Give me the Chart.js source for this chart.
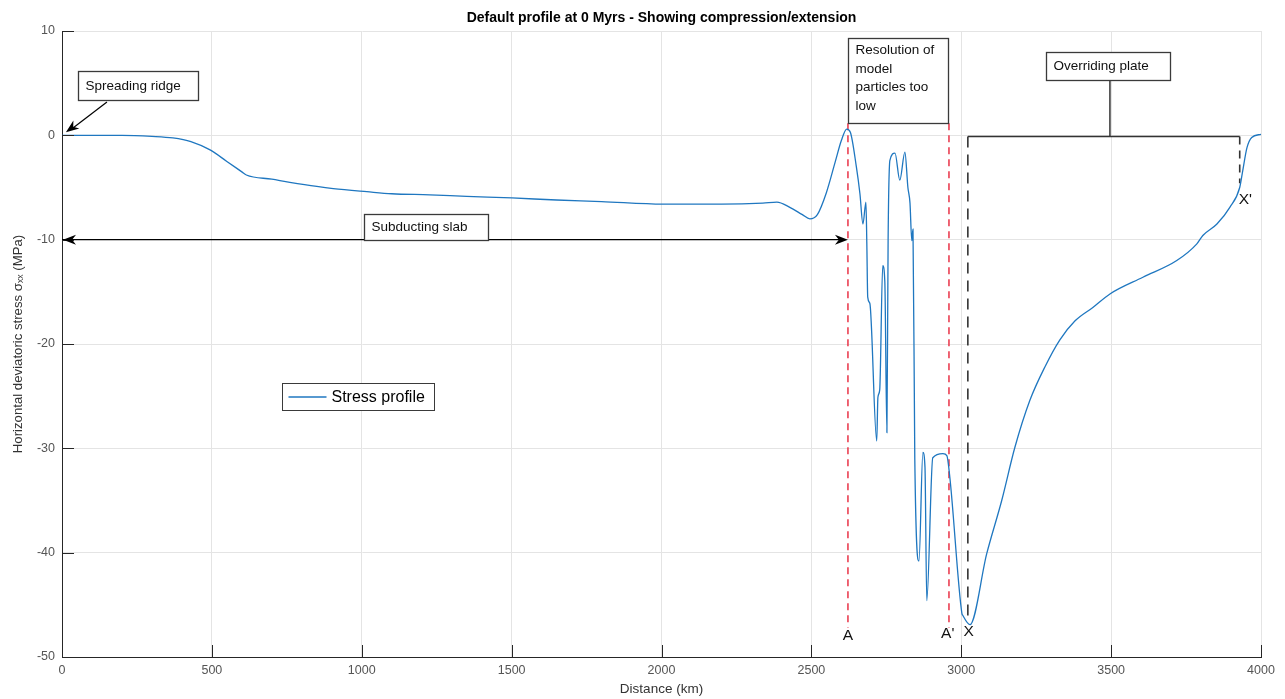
<!DOCTYPE html>
<html>
<head>
<meta charset="utf-8">
<script src="https://cdn.jsdelivr.net/npm/chart.js@4.4.1/dist/chart.umd.min.js"></script>
<style>
    html, body { margin: 0; padding: 0; background: #ffffff; }
    #wrap { width: 1285px; height: 699px; }
</style>
</head>
<body>
<div id="wrap"><canvas id="stressChart" width="1285" height="699"></canvas></div>
<script>
// Stress profile
const distanceKm = [
    0, 100, 200, 300, 370, 430, 494, 550, 600, 615, 700, 760, 850, 905, 1017, 1100, 1227, 1350, 1501, 1650,
    1800, 2005, 2200, 2338, 2385, 2428, 2470, 2495, 2520, 2550, 2580, 2600, 2618, 2630, 2650, 2662, 2672, 2682,
    2685, 2688, 2695, 2718, 2722, 2728, 2738, 2745, 2752, 2756, 2762, 2779, 2795, 2812, 2822, 2829, 2835, 2839,
    2845, 2859, 2872, 2879, 2885, 2905, 2939, 2952, 2962, 3002, 3005, 3029, 3085, 3135, 3179, 3229, 3279, 3329,
    3379, 3439, 3496, 3606, 3719, 3786, 3806, 3853, 3896, 3929, 3939, 3953, 3969, 4000
];
const stressMPa = [
    0, 0, 0, -0.1, -0.25, -0.6, -1.4, -2.5, -3.5, -3.8, -4.2, -4.5, -4.9, -5.1, -5.4, -5.6, -5.7, -5.85, -6.0, -6.2,
    -6.35, -6.6, -6.6, -6.5, -6.4, -6.9, -7.6, -8.0, -7.6, -5.5, -2.5, -0.5, 0.6, 0.3, -3.0, -5.6, -8.5, -6.4,
    -10.4, -15.5, -16.1, -29.3, -25.1, -24.4, -12.5, -14.0, -28.5, -10.0, -2.4, -1.7, -4.3, -1.6, -5.0, -6.5, -10.1, -9.0,
    -31.0, -40.8, -30.4, -31.8, -44.6, -30.9, -30.5, -30.7, -32.8, -45.8, -46.0, -46.9, -40.1, -35.0, -29.9, -25.4, -22.2, -19.6,
    -17.8, -16.5, -15.2, -13.6, -12.0, -10.4, -9.6, -8.5, -6.9, -5.0, -3.4, -1.2, -0.2, 0.1
];

// Axis ticks
const xTicks = [0, 500, 1000, 1500, 2000, 2500, 3000, 3500, 4000];
const yTicks = [-50, -40, -30, -20, -10, 0, 10];

// Section markers (km)
const markerA = 2622;
const markerA2 = 2959;
const markerX = 3022;
const markerX2 = 3929;
const plateMid = 3496;

const FONT = '"Liberation Sans", Arial, Helvetica, sans-serif';

const segment = (points) => points.map(([x, y]) => ({ x, y }));

// Annotation boxes (data coordinates)
const boxes = [
    { x0: 53, x1: 453, y0: 3.4, y1: 6.2, lines: ['Spreading ridge'] },
    { x0: 2622, x1: 2955, y0: 1.15, y1: 9.3, lines: ['Resolution of', 'model', 'particles too', 'low'] },
    { x0: 3282, x1: 3696, y0: 5.3, y1: 8.0, lines: ['Overriding plate'] },
    { x0: 1007, x1: 1421, y0: -10, y1: -7.5, lines: ['Subducting slab'] }
];

const pointLabels = [
    { text: 'A', x: markerA, y: -48.0 },
    { text: "A'", x: 2955, y: -47.8 },
    { text: 'X', x: 3025, y: -47.6 },
    { text: "X'", x: 3948, y: -6.2 }
];

const drawArrowHead = (ctx, fromX, fromY, toX, toY) => {
    const angle = Math.atan2(toY - fromY, toX - fromX);
    const len = 13;
    const half = 5;
    ctx.save();
    ctx.translate(toX, toY);
    ctx.rotate(angle);
    ctx.beginPath();
    ctx.moveTo(0, 0);
    ctx.lineTo(-len, -half);
    ctx.lineTo(-len * 0.7, 0);
    ctx.lineTo(-len, half);
    ctx.closePath();
    ctx.fillStyle = '#000';
    ctx.fill();
    ctx.restore();
};

const annotationPlugin = {
    id: 'profileAnnotations',
    afterDatasetsDraw(chart) {
        const { ctx, chartArea } = chart;
        const xs = chart.scales.x;
        const ys = chart.scales.y;
        const px = (v) => xs.getPixelForValue(v);
        const py = (v) => ys.getPixelForValue(v);

        ctx.save();

        // Inward tick marks
        ctx.strokeStyle = '#262626';
        ctx.lineWidth = 1;
        xTicks.forEach((v) => {
            const X = Math.round(px(v)) + 0.5;
            ctx.beginPath();
            ctx.moveTo(X, chartArea.bottom);
            ctx.lineTo(X, chartArea.bottom - 12);
            ctx.stroke();
        });
        yTicks.forEach((v) => {
            const Y = Math.round(py(v)) + 0.5;
            ctx.beginPath();
            ctx.moveTo(chartArea.left, Y);
            ctx.lineTo(chartArea.left + 12, Y);
            ctx.stroke();
        });

        // Boxes with text
        boxes.forEach((b) => {
            const left = Math.round(px(b.x0)) + 0.5;
            const right = Math.round(px(b.x1)) + 0.5;
            const top = Math.round(py(b.y1)) + 0.5;
            const bottom = Math.round(py(b.y0)) + 0.5;
            ctx.fillStyle = '#ffffff';
            ctx.fillRect(left, top, right - left, bottom - top);
            ctx.strokeStyle = '#3a3a3a';
            ctx.lineWidth = 1.3;
            ctx.strokeRect(left, top, right - left, bottom - top);
            ctx.fillStyle = '#111';
            ctx.font = '13.5px ' + FONT;
            ctx.textAlign = 'left';
            ctx.textBaseline = 'middle';
            if (b.lines.length === 1) {
                ctx.fillText(b.lines[0], left + 7, (top + bottom) / 2);
            } else {
                b.lines.forEach((line, i) => ctx.fillText(line, left + 7, top + 12 + i * 18.5));
            }
        });

        // Arrow heads
        drawArrowHead(ctx, px(150), py(3.2), px(13), py(0.3));
        ctx.strokeStyle = '#000';
        ctx.lineWidth = 1.2;
        ctx.beginPath();
        ctx.moveTo(px(150), py(3.2));
        ctx.lineTo(px(30), py(0.55));
        ctx.stroke();
        drawArrowHead(ctx, px(1000), py(-10), px(0) + 1, py(-10));
        drawArrowHead(ctx, px(1500), py(-10), px(markerA), py(-10));

        // Point labels
        ctx.fillStyle = '#111';
        ctx.font = '15.5px ' + FONT;
        ctx.textAlign = 'center';
        ctx.textBaseline = 'middle';
        pointLabels.forEach((l) => ctx.fillText(l.text, px(l.x), py(l.y)));

        // Legend
        const lgLeft = Math.round(px(734)) + 0.5;
        const lgTop = Math.round(py(-23.7)) + 0.5;
        const lgW = 152;
        const lgH = 27;
        ctx.fillStyle = '#ffffff';
        ctx.fillRect(lgLeft, lgTop, lgW, lgH);
        ctx.strokeStyle = '#3a3a3a';
        ctx.lineWidth = 1;
        ctx.strokeRect(lgLeft, lgTop, lgW, lgH);
        const ds = chart.data.datasets[0];
        ctx.strokeStyle = ds.borderColor;
        ctx.lineWidth = 1.3;
        ctx.beginPath();
        ctx.moveTo(lgLeft + 6, lgTop + lgH / 2);
        ctx.lineTo(lgLeft + 44, lgTop + lgH / 2);
        ctx.stroke();
        ctx.fillStyle = '#000';
        ctx.font = '16px ' + FONT;
        ctx.textAlign = 'left';
        ctx.fillText(ds.label, lgLeft + 49, lgTop + lgH / 2 + 1);

        // Title
        ctx.font = 'bold 14px ' + FONT;
        ctx.textAlign = 'center';
        ctx.fillStyle = '#000';
        ctx.fillText('Default profile at 0 Myrs - Showing compression/extension', (chartArea.left + chartArea.right) / 2, 18);

        ctx.restore();
    }
};

const ctx = document.getElementById('stressChart').getContext('2d');
new Chart(ctx, {
    type: 'line',
    data: {
        datasets: [
            {
                label: 'Stress profile',
                data: distanceKm.map((d, i) => ({ x: d, y: stressMPa[i] })),
                borderColor: '#1f77c0',
                borderWidth: 1.3,
                pointRadius: 0,
                cubicInterpolationMode: 'monotone'
            },
            {
                label: 'A',
                data: segment([[markerA, 1.15], [markerA, -47.2]]),
                borderColor: '#ea3f52',
                borderWidth: 1.6,
                borderDash: [7, 5],
                pointRadius: 0
            },
            {
                label: "A'",
                data: segment([[markerA2, 1.15], [markerA2, -47.2]]),
                borderColor: '#ea3f52',
                borderWidth: 1.6,
                borderDash: [7, 5],
                pointRadius: 0
            },
            {
                label: 'X',
                data: segment([[markerX, -0.1], [markerX, -46.6]]),
                borderColor: '#333333',
                borderWidth: 1.6,
                borderDash: [11, 7],
                pointRadius: 0
            },
            {
                label: 'Plate bracket',
                data: segment([[markerX, -0.1], [markerX2, -0.1]]),
                borderColor: '#333333',
                borderWidth: 1.5,
                pointRadius: 0
            },
            {
                label: 'Plate stem',
                data: segment([[plateMid, -0.1], [plateMid, 5.3]]),
                borderColor: '#333333',
                borderWidth: 1.5,
                pointRadius: 0
            },
            {
                label: "X'",
                data: segment([[markerX2, -0.1], [markerX2, -4.6]]),
                borderColor: '#333333',
                borderWidth: 1.6,
                borderDash: [8, 6],
                pointRadius: 0
            },
            {
                label: 'Subducting slab',
                data: segment([[0, -10], [markerA - 20, -10]]),
                borderColor: '#000000',
                borderWidth: 1.3,
                pointRadius: 0
            }
        ]
    },
    options: {
        responsive: false,
        animation: false,
        layout: { padding: { top: 31, right: 24, bottom: 0, left: 0 } },
        plugins: {
            legend: { display: false },
            title: { display: false },
            tooltip: { enabled: false }
        },
        scales: {
            x: {
                type: 'linear',
                min: 0,
                max: 4000,
                afterBuildTicks: (scale) => { scale.ticks = xTicks.map((v) => ({ value: v })); },
                afterFit: (scale) => { scale.height = 42; },
                grid: { color: '#e4e4e4', drawTicks: false },
                border: { display: true, color: '#262626', width: 1 },
                ticks: {
                    padding: 6,
                    color: '#555',
                    font: { family: FONT, size: 12.5 },
                    maxRotation: 0,
                    callback: (value) => String(value)
                },
                title: {
                    display: true,
                    text: 'Distance (km)',
                    color: '#333',
                    font: { family: FONT, size: 13.5 },
                    padding: { top: 0, bottom: 2 }
                }
            },
            y: {
                type: 'linear',
                min: -50,
                max: 10,
                afterBuildTicks: (scale) => { scale.ticks = yTicks.map((v) => ({ value: v })); },
                afterFit: (scale) => { scale.width = 62; },
                grid: { color: '#e4e4e4', drawTicks: false },
                border: { display: true, color: '#262626', width: 1 },
                ticks: {
                    padding: 7,
                    color: '#555',
                    font: { family: FONT, size: 12.5 },
                    callback: (value) => String(value)
                },
                title: {
                    display: true,
                    text: 'Horizontal deviatoric stress σₓₓ (MPa)',
                    color: '#333',
                    font: { family: FONT, size: 13.2 },
                    padding: { top: 10, bottom: 0 }
                }
            }
        }
    },
    plugins: [annotationPlugin]
});
</script>
</body>
</html>
